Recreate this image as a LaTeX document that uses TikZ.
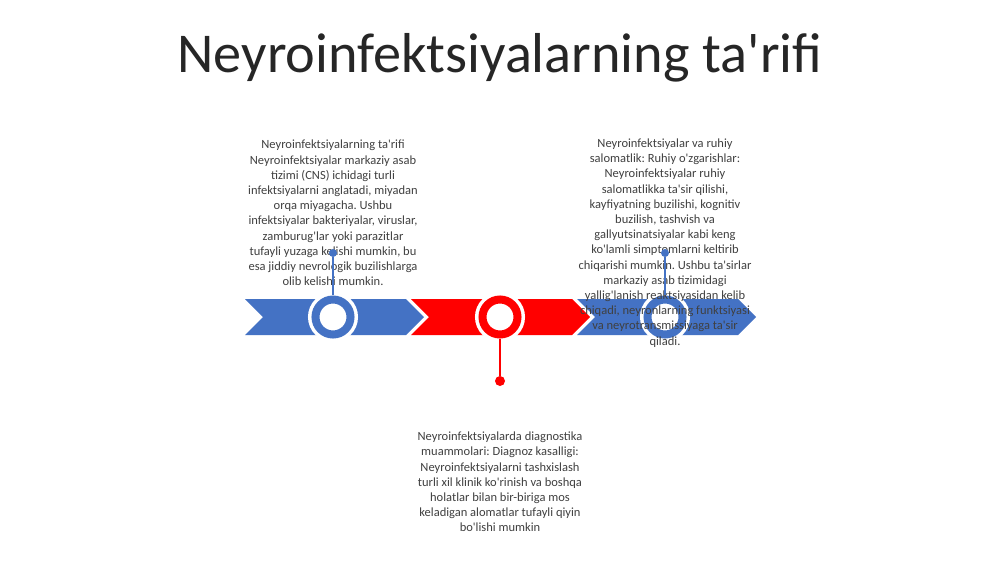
\documentclass[tikz,border=0pt]{standalone}
\usepackage{fontspec}
\setmainfont{Carlito}[Ligatures=TeXOff]
\usepackage{tikz}
\frenchspacing

\definecolor{chevblue}{HTML}{4472C4}
\definecolor{chevred}{HTML}{FF0000}
\definecolor{txtgray}{HTML}{404040}
\definecolor{titlegray}{HTML}{262626}

\tikzset{
  chev/.style={fill=#1, draw=none},
  ring/.style={circle, draw=#1, fill=white, line width=7.7pt, minimum size=33.6pt, inner sep=0pt,
    preaction={draw=white, line width=14.4pt}},
  dotblue/.style={circle, fill=chevblue, inner sep=0pt, minimum size=7.7pt},
  dotred/.style={circle, fill=chevred, inner sep=0pt, minimum size=9.6pt},
  stem/.style={draw=#1, line width=1.9pt},
  blurb/.style={align=center, text=txtgray, font=\fontsize{12}{14.6}\selectfont},
}

\begin{document}
\begin{tikzpicture}[x=0.96pt, y=-0.96pt]
            \fill[white] (0,0) rectangle (1000,562);
            \useasboundingbox (0,0) rectangle (1000,562);

            \node[text=titlegray, font=\fontsize{54}{65}\selectfont] (title) at (500,58) {Neyroinfektsiyalarning ta'rifi};

            % chevrons
            \fill[chev=chevblue] (245,299) -- (406,299) -- (424,317) -- (406,335) -- (245,335) -- (263,317) -- cycle;
            \fill[chev=chevred] (411,299) -- (572,299) -- (590,317) -- (572,335) -- (411,335) -- (429,317) -- cycle;
            \fill[chev=chevblue] (577,299) -- (738,299) -- (756,317) -- (738,335) -- (577,335) -- (595,317) -- cycle;

            \node[ring=chevblue] (ringA) at (333,317) {};
            \node[ring=chevred] (ringB) at (500,317) {};
            \node[ring=chevblue] (ringC) at (665,317) {};

            \node[blurb] (defn) at (333,213) {Neyroinfektsiyalarning ta'rifi\\
              Neyroinfektsiyalar markaziy asab\\
              tizimi (CNS) ichidagi turli\\
              infektsiyalarni anglatadi, miyadan\\
              orqa miyagacha. Ushbu\\
              infektsiyalar bakteriyalar, viruslar,\\
              zamburug'lar yoki parazitlar\\
              tufayli yuzaga kelishi mumkin, bu\\
              esa jiddiy nevrologik buzilishlarga\\
              olib kelishi mumkin.};
            \node[blurb] (diag) at (500,482) {Neyroinfektsiyalarda diagnostika\\
              muammolari: Diagnoz kasalligi:\\
              Neyroinfektsiyalarni tashxislash\\
              turli xil klinik ko'rinish va boshqa\\
              holatlar bilan bir-biriga mos\\
              keladigan alomatlar tufayli qiyin\\
              bo'lishi mumkin};
            \node[blurb] (mind) at (665,243) {Neyroinfektsiyalar va ruhiy\\
              salomatlik: Ruhiy o'zgarishlar:\\
              Neyroinfektsiyalar ruhiy\\
              salomatlikka ta'sir qilishi,\\
              kayfiyatning buzilishi, kognitiv\\
              buzilish, tashvish va\\
              gallyutsinatsiyalar kabi keng\\
              ko'lamli simptomlarni keltirib\\
              chiqarishi mumkin. Ushbu ta'sirlar\\
              markaziy asab tizimidagi\\
              yallig'lanish reaktsiyasidan kelib\\
              chiqadi, neyronlarning funktsiyasi\\
              va neyrotransmissiyaga ta'sir\\
              qiladi.};

            % pins
            \node[dotblue] (pinA) at (333,253) {};
            \node[dotred] (pinB) at (500,381) {};
            \node[dotblue] (pinC) at (665,253) {};
            \draw[stem=chevblue] (pinA) -- (ringA);
            \draw[stem=chevred] (pinB) -- (ringB);
            \draw[stem=chevblue] (pinC) -- (ringC);
\end{tikzpicture}
\end{document}
